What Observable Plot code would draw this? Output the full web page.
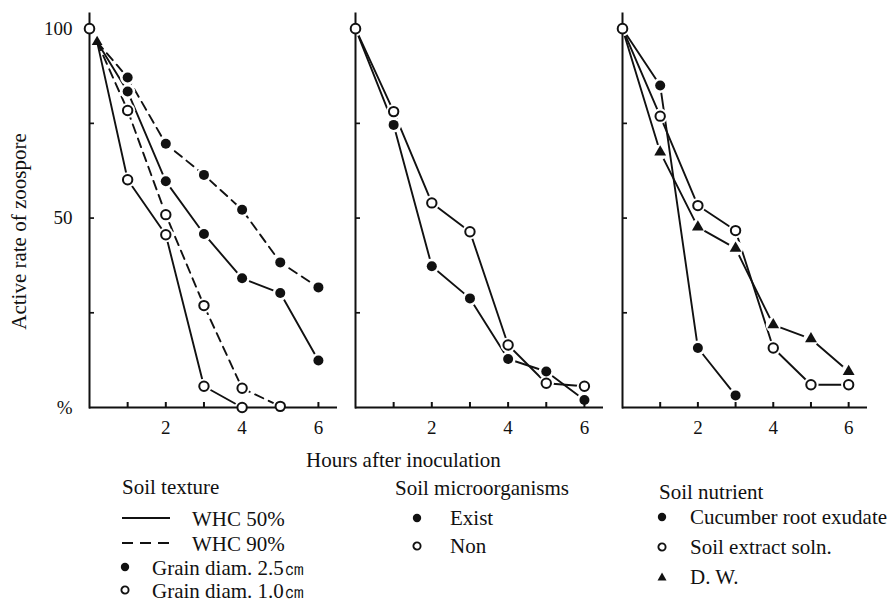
<!DOCTYPE html>
<html><head><meta charset="utf-8">
<script src="https://cdn.jsdelivr.net/npm/d3@7"></script>
<script src="https://cdn.jsdelivr.net/npm/@observablehq/plot@0.6"></script>
<style>
body{margin:0;background:#fff;}
#wrap{position:relative;width:892px;height:606px;font-family:"Liberation Serif","Times New Roman",serif;color:#111;overflow:hidden;background:#fff}
.p{position:absolute;top:0}
.t{position:absolute;font-size:21px;line-height:1;white-space:nowrap;transform:translateY(-50%)}
.s{position:absolute;overflow:visible}
</style></head><body><div id="wrap"></div>
<script>
// ---- data (hours after inoculation, active rate %) ----
const initialHour = [0];
const initialValue = [100];

// Panel 1: soil texture (lines start from the converging point just below 100)
const textureHours = [0.2, 1, 2, 3, 4, 5, 6];
const whc50_grain25 = [96.5, 83.4, 59.7, 45.8, 34.1, 30.2, 12.4];
const whc90_grain25 = [96.5, 87.1, 69.6, 61.4, 52.2, 38.3, 31.7];
const whc50_grain10 = [96.5, 60.1, 45.6, 5.6, 0, null, null];
const whc90_grain10 = [96.5, 78.4, 50.9, 26.9, 5.1, 0.3, null];

// Panel 2: soil microorganisms
const hours = [0, 1, 2, 3, 4, 5, 6];
const microExist = [100, 74.6, 37.3, 28.8, 12.8, 9.5, 2.0];
const microNon = [100, 78.1, 54.0, 46.4, 16.5, 6.4, 5.6];

// Panel 3: soil nutrient
const cucumber = [100, 85.0, 15.7, 3.2, null, null, null];
const soilExtract = [100, 76.9, 53.3, 46.7, 15.7, 6.0, 6.0];
const distilledWater = [100, 67.4, 47.6, 42.0, 21.8, 18.1, 9.5];

const xTicks = [1, 2, 3, 4, 5, 6];
const xLabelTicks = [2, 4, 6];
const yInnerTicks = [25, 50, 75];
const yLabelTicks = [0, 50, 100];
const yLabel = "Active rate of zoospore";
const xLabel = "Hours after inoculation";

// ---- helpers ----
const INK = "#111";
function rows(hs, vals) {
  return hs.map((h, i) => ({hour: h, value: vals[i]})).filter(d => d.value != null);
}
const initial = rows(initialHour, initialValue);

function panel({left, width, mL, mR, series, first}) {
  const marks = [];
  const markerRows = [];
  for (const s of series) {
    const r = rows(s.hours, s.values);
    marks.push(Plot.line(r, {x: "hour", y: "value", stroke: INK, strokeWidth: 1.9, strokeDasharray: s.dash ? "9,6" : null}));
    r.slice(1).forEach(d => markerRows.push({...d, sym: s.sym}));
  }
  // white halos break the lines near markers
  marks.push(Plot.dot(markerRows, {x: "hour", y: "value", r: 7.6, fill: "white", stroke: "none"}));
  marks.push(Plot.dot(initial, {x: "hour", y: "value", r: 7.6, fill: "white", stroke: "none"}));
  // axes
  marks.push(Plot.ruleY([0], {stroke: INK, strokeWidth: 2}));
  marks.push(Plot.frame({anchor: "left", stroke: INK, strokeWidth: 2}));
  marks.push(Plot.axisX({ticks: xTicks, tickSize: -5, tickPadding: 18, strokeWidth: 2, stroke: INK, fill: INK,
    tickFormat: d => xLabelTicks.includes(d) ? String(d) : "", label: null}));
  marks.push(Plot.axisY({ticks: yInnerTicks, tickSize: -5, strokeWidth: 1.7, stroke: INK, tickFormat: () => "", label: null}));
  if (first) {
    marks.push(Plot.axisY({ticks: yLabelTicks, tickSize: 0, tickPadding: 17, fill: INK,
      tickFormat: d => d === 0 ? "%" : String(d), label: null}));
    marks.push(Plot.text([yLabel], {frameAnchor: "left", textAnchor: "middle", lineAnchor: "middle", dx: -70, dy: 21, rotate: -90, fontSize: 21, fill: INK}));
    // converging start marker
    marks.push(Plot.dot([{hour: textureHours[0], value: whc50_grain25[0]}], {x: "hour", y: "value", symbol: "triangle", r: 4, fill: INK}));
  }
  // markers
  marks.push(Plot.dot(markerRows.filter(d => d.sym === "filled"), {x: "hour", y: "value", r: 5, fill: INK}));
  marks.push(Plot.dot(markerRows.filter(d => d.sym === "open"), {x: "hour", y: "value", r: 4.7, fill: "white", stroke: INK, strokeWidth: 2}));
  marks.push(Plot.dot(markerRows.filter(d => d.sym === "tri"), {x: "hour", y: "value", r: 4.4, symbol: "triangle", fill: INK}));
  marks.push(Plot.dot(initial, {x: "hour", y: "value", r: 4.8, fill: "white", stroke: INK, strokeWidth: 2}));

  const svg = Plot.plot({
    width, height: 440,
    marginLeft: mL, marginRight: mR, marginTop: 13, marginBottom: 33,
    x: {domain: [0, 6.5], label: null},
    y: {domain: [0, 104], label: null},
    style: {fontFamily: '"Liberation Serif","Times New Roman",serif', fontSize: "19px", background: "transparent", color: INK, overflow: "visible"},
    marks
  });
  svg.classList.add("p");
  svg.style.left = left + "px";
  return svg;
}

const wrap = document.getElementById("wrap");
wrap.appendChild(panel({left: 0, width: 340, mL: 89, mR: 3, first: true, series: [
  {hours: textureHours, values: whc50_grain25, dash: false, sym: "filled"},
  {hours: textureHours, values: whc90_grain25, dash: true, sym: "filled"},
  {hours: textureHours, values: whc50_grain10, dash: false, sym: "open"},
  {hours: textureHours, values: whc90_grain10, dash: true, sym: "open"}
]}));
wrap.appendChild(panel({left: 340, width: 266, mL: 15, mR: 3, series: [
  {hours, values: microExist, dash: false, sym: "filled"},
  {hours, values: microNon, dash: false, sym: "open"}
]}));
wrap.appendChild(panel({left: 606, width: 286, mL: 16, mR: 25, series: [
  {hours, values: cucumber, dash: false, sym: "filled"},
  {hours, values: soilExtract, dash: false, sym: "open"},
  {hours, values: distilledWater, dash: false, sym: "tri"}
]}));

// ---- legend (below the charts) ----
function txt(x, cy, s) {
  const d = document.createElement("div");
  d.className = "t"; d.style.left = x + "px"; d.style.top = cy + "px"; d.textContent = s;
  wrap.appendChild(d);
}
const NS = "http://www.w3.org/2000/svg";
function sym(cx, cy, type) {
  const s = document.createElementNS(NS, "svg");
  s.setAttribute("class", "s"); s.setAttribute("width", 60); s.setAttribute("height", 20);
  s.style.left = (cx - 10) + "px"; s.style.top = (cy - 10) + "px";
  let el;
  if (type === "filled") { el = document.createElementNS(NS, "circle"); el.setAttribute("cx", 10); el.setAttribute("cy", 10); el.setAttribute("r", 4.2); el.setAttribute("fill", INK); }
  else if (type === "open") { el = document.createElementNS(NS, "circle"); el.setAttribute("cx", 10); el.setAttribute("cy", 10); el.setAttribute("r", 3.6); el.setAttribute("fill", "white"); el.setAttribute("stroke", INK); el.setAttribute("stroke-width", 1.9); }
  else if (type === "tri") { el = document.createElementNS(NS, "path"); el.setAttribute("d", "M10,5.5L14.5,13.5L5.5,13.5Z"); el.setAttribute("fill", INK); }
  else { el = document.createElementNS(NS, "line"); el.setAttribute("x1", 10); el.setAttribute("x2", 58); el.setAttribute("y1", 10); el.setAttribute("y2", 10); el.setAttribute("stroke", INK); el.setAttribute("stroke-width", 1.9); if (type === "dash") el.setAttribute("stroke-dasharray", "11,7"); }
  s.appendChild(el); wrap.appendChild(s);
}
txt(306, 460, xLabel);
txt(122, 487, "Soil texture");
sym(122, 518, "solid"); txt(192, 519, "WHC 50%");
sym(122, 543, "dash"); txt(192, 544, "WHC 90%");
sym(125, 567, "filled"); txt(152, 568, "Grain diam. 2.5㎝");
sym(125, 590, "open"); txt(152, 591, "Grain diam. 1.0㎝");
txt(395, 488, "Soil microorganisms");
sym(417, 518, "filled"); txt(450, 518, "Exist");
sym(417, 546, "open"); txt(450, 546, "Non");
txt(659, 492, "Soil nutrient");
sym(662, 517, "filled"); txt(690, 517, "Cucumber root exudate");
sym(662, 547, "open"); txt(690, 547, "Soil extract soln.");
sym(662, 577, "tri"); txt(690, 577, "D. W.");
</script></body></html>
